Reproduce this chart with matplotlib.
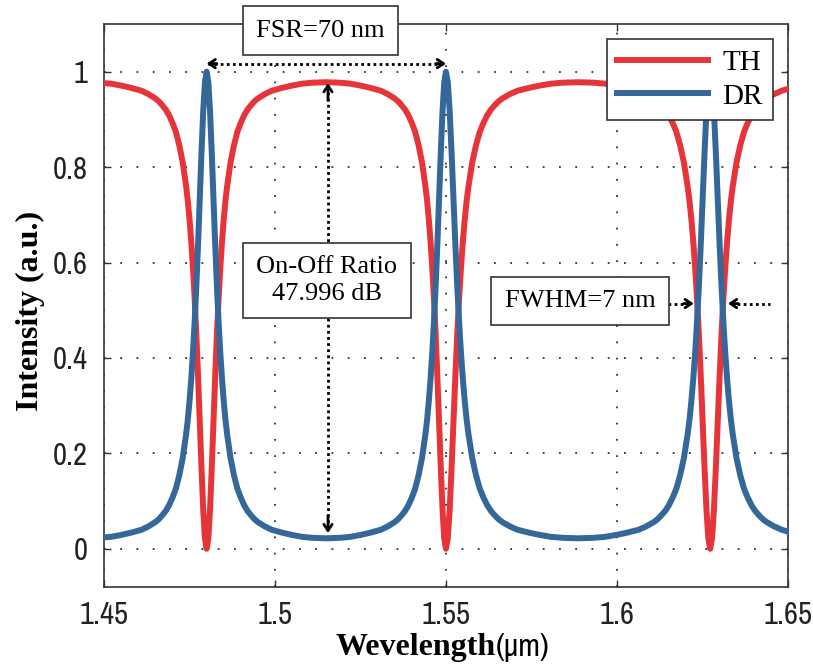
import matplotlib
matplotlib.use('Agg')
from matplotlib import pyplot as plt
from matplotlib import font_manager

# wavelength samples (um), one row per stretch of curve
wavelength = [
    # left of resonance 1
    1.450, 1.452, 1.455, 1.458, 1.461, 1.463, 1.465, 1.466, 1.467, 1.468,
    1.469, 1.470, 1.471, 1.472, 1.473, 1.474, 1.4745, 1.475, 1.4755, 1.476,
    1.4765, 1.477, 1.4775, 1.478, 1.4785, 1.479, 1.4795, 1.480,
    # resonance 1 -> resonance 2
    1.4805, 1.481, 1.4815, 1.482, 1.4825, 1.483, 1.4835, 1.484, 1.4845,
    1.485, 1.4855, 1.486, 1.487, 1.488, 1.489, 1.490, 1.491, 1.492, 1.493,
    1.494, 1.495, 1.497, 1.499, 1.502, 1.505, 1.508, 1.511, 1.515, 1.519,
    1.522, 1.525, 1.528, 1.531, 1.533, 1.535, 1.536, 1.537, 1.538, 1.539,
    1.540, 1.541, 1.542, 1.543, 1.544, 1.5445, 1.545, 1.5455, 1.546, 1.5465,
    1.547, 1.5475, 1.548, 1.5485, 1.549, 1.5495, 1.550,
    # right of resonance 2
    1.55055, 1.5511, 1.55165, 1.5522, 1.55275, 1.5533, 1.55385, 1.5544,
    1.55495, 1.5555, 1.55605, 1.5566, 1.5577, 1.5588, 1.5599, 1.5610,
    1.5621, 1.5632, 1.5643, 1.5654, 1.5665, 1.5687, 1.5709, 1.5742, 1.5775,
    1.5808, 1.5841, 1.5887,
    # left of resonance 3
    1.5932, 1.5965, 1.5998, 1.6031, 1.6064, 1.6086, 1.6108, 1.6119, 1.6130,
    1.6141, 1.6152, 1.6163, 1.6174, 1.6185, 1.6196, 1.6207, 1.62125, 1.6218,
    1.62235, 1.6229, 1.62345, 1.6240, 1.62455, 1.6251, 1.62565, 1.6262,
    1.62675, 1.6273,
    # right of resonance 3
    1.62785, 1.6284, 1.62895, 1.6295, 1.63005, 1.6306, 1.63115, 1.6317,
    1.63225, 1.6328, 1.63335, 1.6339, 1.6350, 1.6361, 1.6372, 1.6383,
    1.6394, 1.6405, 1.6416, 1.6427, 1.6438, 1.6460, 1.6482, 1.6500,
]

# drop port (DR)
drop = [
    0.024, 0.025, 0.029, 0.034, 0.040, 0.047, 0.056, 0.062, 0.070, 0.079,
    0.091, 0.107, 0.126, 0.154, 0.190, 0.240, 0.271, 0.310, 0.356, 0.411,
    0.476, 0.552, 0.639, 0.734, 0.831, 0.917, 0.978, 1.000,

    0.978, 0.917, 0.831, 0.734, 0.639, 0.552, 0.476, 0.411, 0.356,
    0.310, 0.271, 0.240, 0.190, 0.154, 0.126, 0.107, 0.091, 0.079, 0.070,
    0.062, 0.056, 0.047, 0.040, 0.034, 0.029, 0.025, 0.023, 0.022, 0.023,
    0.025, 0.029, 0.034, 0.040, 0.047, 0.056, 0.062, 0.070, 0.079, 0.091,
    0.107, 0.126, 0.154, 0.190, 0.240, 0.271, 0.310, 0.356, 0.411, 0.476,
    0.552, 0.639, 0.734, 0.831, 0.917, 0.978, 1.000,

    0.978, 0.917, 0.831, 0.734, 0.639, 0.552, 0.476, 0.411,
    0.356, 0.310, 0.271, 0.240, 0.190, 0.154, 0.126, 0.107,
    0.091, 0.079, 0.070, 0.062, 0.056, 0.047, 0.040, 0.034, 0.029,
    0.025, 0.023, 0.022,

    0.023, 0.025, 0.029, 0.034, 0.040, 0.047, 0.056, 0.062, 0.070,
    0.079, 0.091, 0.107, 0.126, 0.154, 0.190, 0.240, 0.271, 0.310,
    0.356, 0.411, 0.476, 0.552, 0.639, 0.734, 0.831, 0.917,
    0.978, 1.000,

    0.978, 0.917, 0.831, 0.734, 0.639, 0.552, 0.476, 0.411,
    0.356, 0.310, 0.271, 0.240, 0.190, 0.154, 0.126, 0.107,
    0.091, 0.079, 0.070, 0.062, 0.056, 0.047, 0.040, 0.036,
]

# through port (TH)
through = [
    0.976, 0.975, 0.971, 0.966, 0.960, 0.953, 0.944, 0.938, 0.930, 0.921,
    0.909, 0.893, 0.874, 0.846, 0.810, 0.760, 0.729, 0.690, 0.644, 0.589,
    0.524, 0.448, 0.361, 0.266, 0.169, 0.083, 0.022, 0.000,

    0.022, 0.083, 0.169, 0.266, 0.361, 0.448, 0.524, 0.589, 0.644,
    0.690, 0.729, 0.760, 0.810, 0.846, 0.874, 0.893, 0.909, 0.921, 0.930,
    0.938, 0.944, 0.953, 0.960, 0.966, 0.971, 0.975, 0.977, 0.978, 0.977,
    0.975, 0.971, 0.966, 0.960, 0.953, 0.944, 0.938, 0.930, 0.921, 0.909,
    0.893, 0.874, 0.846, 0.810, 0.760, 0.729, 0.690, 0.644, 0.589, 0.524,
    0.448, 0.361, 0.266, 0.169, 0.083, 0.022, 0.000,

    0.022, 0.083, 0.169, 0.266, 0.361, 0.448, 0.524, 0.589,
    0.644, 0.690, 0.729, 0.760, 0.810, 0.846, 0.874, 0.893,
    0.909, 0.921, 0.930, 0.938, 0.944, 0.953, 0.960, 0.966, 0.971,
    0.975, 0.977, 0.978,

    0.977, 0.975, 0.971, 0.966, 0.960, 0.953, 0.944, 0.938, 0.930,
    0.921, 0.909, 0.893, 0.874, 0.846, 0.810, 0.760, 0.729, 0.690,
    0.644, 0.589, 0.524, 0.448, 0.361, 0.266, 0.169, 0.083,
    0.022, 0.000,

    0.022, 0.083, 0.169, 0.266, 0.361, 0.448, 0.524, 0.589,
    0.644, 0.690, 0.729, 0.760, 0.810, 0.846, 0.874, 0.893,
    0.909, 0.921, 0.930, 0.938, 0.944, 0.953, 0.960, 0.964,
]

x_ticks = [1.45, 1.5, 1.55, 1.6, 1.65]
x_labels = ['1.45', '1.5', '1.55', '1.6', '1.65']
y_ticks = [0, 0.2, 0.4, 0.6, 0.8, 1.0]
y_labels = ['0', '0.2', '0.4', '0.6', '0.8', '1']

RED = '#e6353a'
BLUE = '#34679a'
SERIF = ['Liberation Serif', 'DejaVu Serif']
DOTS = (0, (1, 1.2))


def narrow_font(size):
    # MATLAB used a condensed sans for the numbers; grab an upright narrow face
    for f in font_manager.fontManager.ttflist:
        if 'Narrow' in f.name and f.style == 'normal' and f.weight in (400, 'normal', 'regular'):
            return font_manager.FontProperties(fname=f.fname, size=size)
    for f in font_manager.fontManager.ttflist:
        if f.name == 'DejaVu Sans' and 'Condensed' in f.fname and f.style == 'normal' \
                and f.weight in (400, 'normal'):
            return font_manager.FontProperties(fname=f.fname, size=size)
    return font_manager.FontProperties(family='DejaVu Sans', size=size - 3)


def dotted_arrow(ax, p0, p1, heads):
    # dotted shaft plus solid open heads at the chosen ends
    ax.plot([p0[0], p1[0]], [p0[1], p1[1]], color='k', lw=2, ls=DOTS,
            dash_capstyle='butt', zorder=5)
    for tip, back in heads:
        ax.annotate('', xy=tip, xytext=back,
                    arrowprops=dict(arrowstyle='->,head_length=0.45,head_width=0.3',
                                    color='k', lw=2, shrinkA=0, shrinkB=0),
                    zorder=6)


def box_text(ax, x, y, s):
    ax.text(x, y, s, ha='center', va='center', fontsize=19, family=SERIF,
            linespacing=1.3, zorder=7,
            bbox=dict(boxstyle='square,pad=0.5', fc='white', ec='#333333', lw=1.2))


def main():
    fig = plt.figure(figsize=(8.13, 6.67), dpi=100)
    ax = fig.add_axes([0.128, 0.120, 0.841, 0.844])

    ax.plot(wavelength, through, color=RED, lw=4.3, label='TH', zorder=3,
            solid_joinstyle='round')
    ax.plot(wavelength, drop, color=BLUE, lw=4.3, label='DR', zorder=4,
            solid_joinstyle='round')

    ax.set_xlim(1.45, 1.65)
    ax.set_ylim(-0.08, 1.1)
    ax.set_xticks(x_ticks)
    ax.set_xticklabels(x_labels)
    ax.set_yticks(y_ticks)
    ax.set_yticklabels(y_labels)
    tick_font = narrow_font(22)
    for lab in ax.get_xticklabels() + ax.get_yticklabels():
        lab.set_fontproperties(tick_font)
        lab.set_color('#222222')
    ax.tick_params(direction='in', length=5, width=1, top=True, right=True,
                   color='#333333')
    ax.tick_params(axis='x', pad=10)
    ax.tick_params(axis='y', pad=12)
    ax.grid(True, color='#333333', ls=(0, (1, 8)), lw=1.3)
    for sp in ax.spines.values():
        sp.set_linewidth(1.2)
        sp.set_color('#333333')

    # axis labels
    ax.text(0.573, -0.108, 'Wevelength', transform=ax.transAxes, ha='right',
            va='center', fontsize=23, fontweight='bold', family=SERIF)
    ax.text(0.573, -0.108, '(\u03bcm)', transform=ax.transAxes, ha='left',
            va='center', fontproperties=narrow_font(23))
    ax.text(-0.108, 0.49, 'Intensity (a.u.)', transform=ax.transAxes,
            rotation=90, ha='center', va='center', fontsize=23,
            fontweight='bold', family=SERIF)

    # FSR arrow
    dotted_arrow(ax, (1.4805, 1.017), (1.5495, 1.017),
                 [((1.4800, 1.017), (1.4830, 1.017)),
                  ((1.5500, 1.017), (1.5470, 1.017))])
    box_text(ax, 1.5132, 1.086, 'FSR=70 nm')

    # on-off ratio arrow
    dotted_arrow(ax, (1.5155, 0.97), (1.5155, 0.04),
                 [((1.5155, 0.976), (1.5155, 0.94)),
                  ((1.5155, 0.033), (1.5155, 0.07))])
    box_text(ax, 1.5152, 0.5625, 'On-Off Ratio\n47.996 dB')

    # FWHM arrows
    dotted_arrow(ax, (1.6150, 0.514), (1.6215, 0.514),
                 [((1.6225, 0.514), (1.6195, 0.514))])
    dotted_arrow(ax, (1.6335, 0.514), (1.6447, 0.514),
                 [((1.6325, 0.514), (1.6355, 0.514))])
    box_text(ax, 1.5892, 0.520, 'FWHM=7 nm')

    leg = ax.legend(loc='upper right', bbox_to_anchor=(0.978, 0.973),
                    borderaxespad=0, prop={'family': SERIF, 'size': 21},
                    handlelength=3.1, handletextpad=0.5, fancybox=False,
                    framealpha=1, edgecolor='#333333', borderpad=0.35,
                    labelspacing=0.25)
    leg.get_frame().set_linewidth(1.2)
    leg.set_zorder(8)

    fig.savefig('out.png', dpi=100)


main()
